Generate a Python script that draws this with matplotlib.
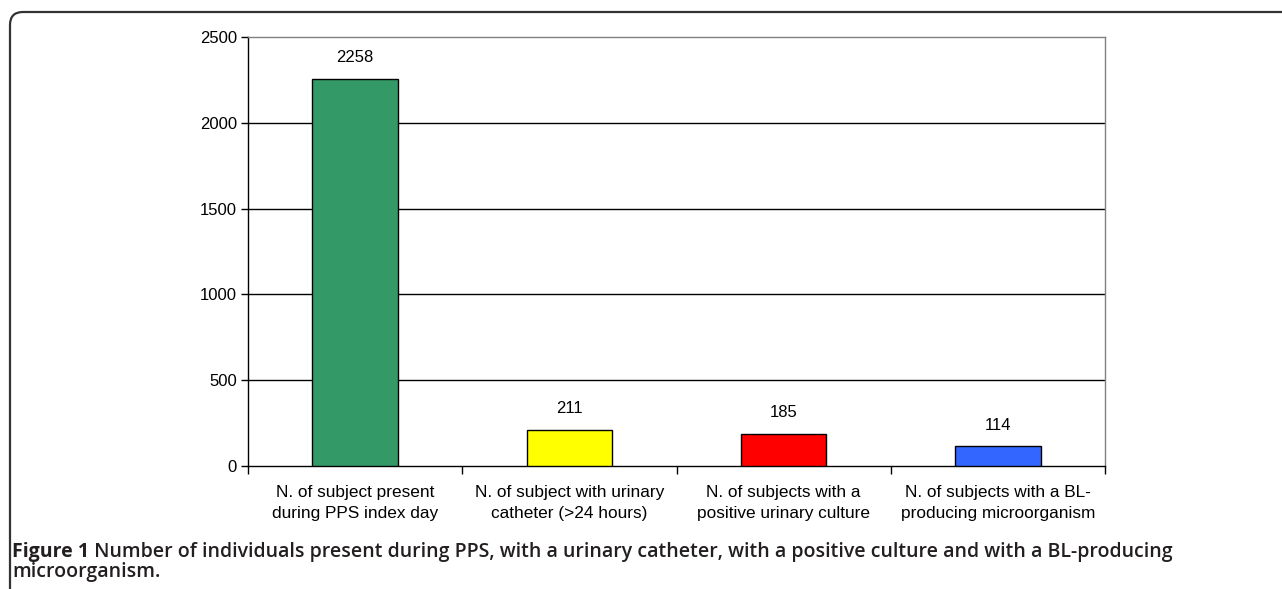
import matplotlib
matplotlib.use("Agg")
import matplotlib.pyplot as plt
from matplotlib.patches import FancyBboxPatch
from matplotlib.transforms import IdentityTransform

categories = ["N. of subject present\nduring PPS index day",
              "N. of subject with urinary\ncatheter (>24 hours)",
              "N. of subjects with a\npositive urinary culture",
              "N. of subjects with a BL-\nproducing microorganism"]
values = [2258, 211, 185, 114]
colors = ["#339966", "#FFFF00", "#FF0000", "#3366FF"]
yticks = [0, 500, 1000, 1500, 2000, 2500]
caption_bold = "Figure 1"
caption_rest = (" Number of individuals present during PPS, with a urinary catheter, with a positive culture and with a BL-producing",
                "microorganism.")

W, H = 1282, 589
fig = plt.figure(figsize=(W / 100, H / 100), dpi=100)
plt.rcParams['font.family'] = ['Liberation Sans', 'DejaVu Sans']

# frame
frame = FancyBboxPatch((10, -60), 1500, H - 12 + 60,
                       boxstyle="round,pad=0,rounding_size=13",
                       transform=IdentityTransform(), facecolor="none",
                       edgecolor="#333333", linewidth=1.6)
fig.patches.append(frame)

ax = fig.add_axes([248 / W, 1 - 466 / H, (1105 - 248) / W, (466 - 37) / H])
x = list(range(len(values)))
ax.bar(x, values, width=0.4, color=colors, edgecolor="black", linewidth=1, zorder=3)
for xi, v in zip(x, values):
    ax.annotate(str(v), (xi, v), xytext=(0, 10), textcoords="offset points",
                ha="center", va="bottom", fontsize=12, color="black")

ax.set_ylim(0, 2500)
ax.set_xlim(-0.5, len(values) - 0.5)
ax.set_yticks(yticks)
ax.set_yticklabels([str(t) for t in yticks], fontsize=12)
for t in yticks[1:-1]:
    ax.axhline(t, color="black", linewidth=1, zorder=1)

ax.set_xticks(x)
ax.set_xticklabels(categories, fontsize=12.4, linespacing=1.45)
ax.tick_params(axis="x", which="major", length=0, pad=14)
ax.set_xticks([i - 0.5 for i in range(len(values) + 1)], minor=True)
ax.tick_params(axis="x", which="minor", length=6, width=1, direction="out")
ax.tick_params(axis="y", length=5, width=1, direction="out", pad=3)

ax.spines["top"].set_color("#808080")
ax.spines["right"].set_color("#808080")
for s in ["left", "bottom"]:
    ax.spines[s].set_color("black")
for s in ax.spines.values():
    s.set_linewidth(1)

cap_font = ['Open Sans', 'DejaVu Sans']
y1 = 1 - 556.5 / H
y2 = 1 - 577 / H
t1 = fig.text(12 / W, y1, caption_bold, fontsize=14, fontweight="bold",
              family=cap_font, va="baseline", ha="left", color="#231f20")
fig.canvas.draw()
bb = t1.get_window_extent(fig.canvas.get_renderer())
fig.text(bb.x1 / W, y1, caption_rest[0], fontsize=14, fontweight="semibold",
         family=cap_font, va="baseline", ha="left", color="#231f20")
fig.text(12 / W, y2, caption_rest[1], fontsize=14, fontweight="semibold",
         family=cap_font, va="baseline", ha="left", color="#231f20")

fig.savefig("out.png", dpi=100)
